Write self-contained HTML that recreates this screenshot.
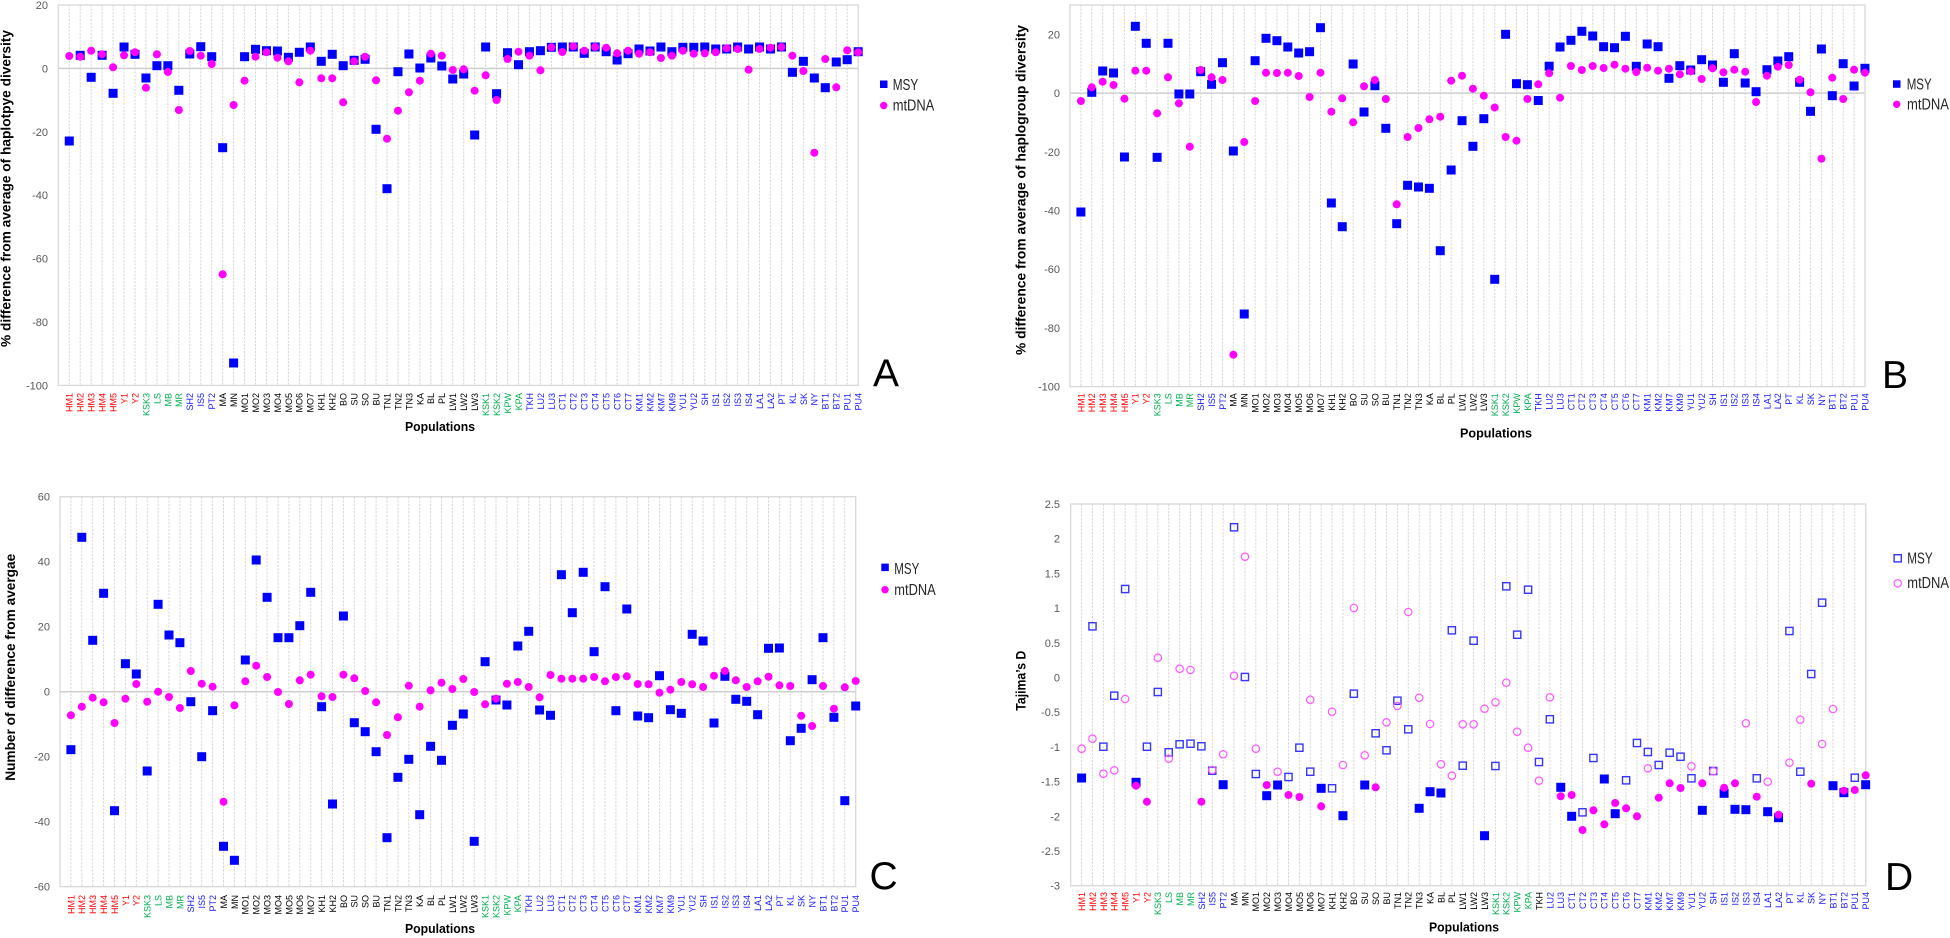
<!DOCTYPE html>
<html><head><meta charset="utf-8"><style>
html,body{margin:0;padding:0;background:#fff;}
svg{display:block;font-family:"Liberation Sans",Arial,sans-serif;}
</style></head><body>
<svg width="1950" height="938" viewBox="0 0 1950 938" xmlns="http://www.w3.org/2000/svg">
<defs>
<rect id="s" x="-4.5" y="-4.5" width="9" height="9" fill="#0000ff"/>
<circle id="c" r="4" fill="#ff00ff"/>
<rect id="hs" x="-3.6" y="-3.6" width="7.2" height="7.2" fill="none" stroke="#3636ff" stroke-width="1.4"/>
<circle id="hc" r="3.7" fill="none" stroke="#ff55ff" stroke-width="1.2"/>
<path id="gl" fill="none" stroke="#d6d6d6" stroke-width="1" stroke-dasharray="2.2 1.3" d="M10.92 0v381M21.84 0v381M32.76 0v381M43.68 0v381M54.6 0v381M65.52 0v381M76.44 0v381M87.36 0v381M98.28 0v381M109.2 0v381M120.12 0v381M131.04 0v381M141.96 0v381M152.88 0v381M163.8 0v381M174.72 0v381M185.64 0v381M196.56 0v381M207.48 0v381M218.4 0v381M229.32 0v381M240.24 0v381M251.16 0v381M262.08 0v381M273 0v381M283.92 0v381M294.84 0v381M305.76 0v381M316.68 0v381M327.6 0v381M338.52 0v381M349.44 0v381M360.36 0v381M371.28 0v381M382.2 0v381M393.12 0v381M404.04 0v381M414.96 0v381M425.88 0v381M436.8 0v381M447.72 0v381M458.64 0v381M469.56 0v381M480.48 0v381M491.4 0v381M502.32 0v381M513.24 0v381M524.16 0v381M535.08 0v381M546 0v381M556.92 0v381M567.84 0v381M578.76 0v381M589.68 0v381M600.6 0v381M611.52 0v381M622.44 0v381M633.36 0v381M644.28 0v381M655.2 0v381M666.12 0v381M677.04 0v381M687.96 0v381M698.88 0v381M709.8 0v381M720.72 0v381M731.64 0v381M742.56 0v381M753.48 0v381M764.4 0v381M775.32 0v381M786.24 0v381"/>
</defs>
<rect width="1950" height="938" fill="#fff"/>

<!-- ================= PANEL A ================= -->
<use href="#gl" transform="translate(58.3 5) scale(1.00339 0.99842)"/>
<line x1="58.3" y1="68.4" x2="858.2" y2="68.4" stroke="#cfcfcf" stroke-width="1.5"/>
<rect x="58.3" y="5" width="799.9" height="380.4" fill="none" stroke="#d9d9d9" stroke-width="1.3"/>
<g font-size="11" fill="#595959" text-anchor="end">
<text x="48" y="9">20</text><text x="48" y="72.4">0</text><text x="48" y="135.8">-20</text><text x="48" y="199.2">-40</text><text x="48" y="262.6">-60</text><text x="48" y="326">-80</text><text x="48" y="389.4">-100</text>
</g>
<text transform="translate(10.5 188.5) rotate(-90)" text-anchor="middle" font-weight="bold" font-size="14" textLength="317" lengthAdjust="spacingAndGlyphs">% difference from average of haplotpye diversity</text>
<text x="405" y="431" font-weight="bold" font-size="12.5" textLength="70" lengthAdjust="spacingAndGlyphs">Populations</text>
<g transform="translate(61.7 393) scale(1.00339 1) rotate(-90)" font-size="9" text-anchor="end">
<g fill="#ff0000"><text y="10.92">HM1</text><text y="21.84">HM2</text><text y="32.76">HM3</text><text y="43.68">HM4</text><text y="54.6">HM5</text><text y="65.52">Y1</text><text y="76.44">Y2</text></g>
<g fill="#00b050"><text y="87.36">KSK3</text><text y="98.28">LS</text><text y="109.2">MB</text><text y="120.12">MR</text></g>
<g fill="#1a1aff"><text y="131.04">SH2</text><text y="141.96">IS5</text><text y="152.88">PT2</text></g>
<g fill="#000"><text y="163.8">MA</text><text y="174.72">MN</text><text y="185.64">MO1</text><text y="196.56">MO2</text><text y="207.48">MO3</text><text y="218.4">MO4</text><text y="229.32">MO5</text><text y="240.24">MO6</text><text y="251.16">MO7</text><text y="262.08">KH1</text><text y="273">KH2</text><text y="283.92">BO</text><text y="294.84">SU</text><text y="305.76">SO</text><text y="316.68">BU</text><text y="327.6">TN1</text><text y="338.52">TN2</text><text y="349.44">TN3</text><text y="360.36">KA</text><text y="371.28">BL</text><text y="382.2">PL</text><text y="393.12">LW1</text><text y="404.04">LW2</text><text y="414.96">LW3</text></g>
<g fill="#00b050"><text y="425.88">KSK1</text><text y="436.8">KSK2</text><text y="447.72">KPW</text><text y="458.64">KPA</text></g>
<g fill="#1a1aff"><text y="469.56">TKH</text><text y="480.48">LU2</text><text y="491.4">LU3</text><text y="502.32">CT1</text><text y="513.24">CT2</text><text y="524.16">CT3</text><text y="535.08">CT4</text><text y="546">CT5</text><text y="556.92">CT6</text><text y="567.84">CT7</text><text y="578.76">KM1</text><text y="589.68">KM2</text><text y="600.6">KM7</text><text y="611.52">KM9</text><text y="622.44">YU1</text><text y="633.36">YU2</text><text y="644.28">SH</text><text y="655.2">IS1</text><text y="666.12">IS2</text><text y="677.04">IS3</text><text y="687.96">IS4</text><text y="698.88">LA1</text><text y="709.8">LA2</text><text y="720.72">PT</text><text y="731.64">KL</text><text y="742.56">SK</text><text y="753.48">NY</text><text y="764.4">BT1</text><text y="775.32">BT2</text><text y="786.24">PU1</text><text y="797.16">PU4</text></g>
</g>
<g transform="translate(58.3 0) scale(1.00339 1)">
<use href="#s" x="10.92" y="141"/><use href="#s" x="21.84" y="55.3"/><use href="#s" x="32.76" y="77.3"/><use href="#s" x="43.68" y="55.3"/><use href="#s" x="54.6" y="93.3"/><use href="#s" x="65.52" y="47"/><use href="#s" x="76.44" y="54.3"/><use href="#s" x="87.36" y="78"/><use href="#s" x="98.28" y="65.7"/><use href="#s" x="109.2" y="65.7"/><use href="#s" x="120.12" y="90.3"/><use href="#s" x="131.04" y="54"/><use href="#s" x="141.96" y="46.7"/><use href="#s" x="152.88" y="56.7"/><use href="#s" x="163.8" y="147.7"/><use href="#s" x="174.72" y="363"/><use href="#s" x="185.64" y="56.7"/><use href="#s" x="196.56" y="49.3"/><use href="#s" x="207.48" y="50.7"/><use href="#s" x="218.4" y="51"/><use href="#s" x="229.32" y="57.3"/><use href="#s" x="240.24" y="52.3"/><use href="#s" x="251.16" y="47"/><use href="#s" x="262.08" y="61.3"/><use href="#s" x="273" y="54.3"/><use href="#s" x="283.92" y="65.7"/><use href="#s" x="294.84" y="60.3"/><use href="#s" x="305.76" y="59.3"/><use href="#s" x="316.68" y="129.3"/><use href="#s" x="327.6" y="188.7"/><use href="#s" x="338.52" y="71.7"/><use href="#s" x="349.44" y="54"/><use href="#s" x="360.36" y="68"/><use href="#s" x="371.28" y="58"/><use href="#s" x="382.2" y="66"/><use href="#s" x="393.12" y="79"/><use href="#s" x="404.04" y="74"/><use href="#s" x="414.96" y="135"/><use href="#s" x="425.88" y="47"/><use href="#s" x="436.8" y="93.7"/><use href="#s" x="447.72" y="52.7"/><use href="#s" x="458.64" y="64.7"/><use href="#s" x="469.56" y="51.7"/><use href="#s" x="480.48" y="50.7"/><use href="#s" x="491.4" y="47.3"/><use href="#s" x="502.32" y="47"/><use href="#s" x="513.24" y="47"/><use href="#s" x="524.16" y="53.3"/><use href="#s" x="535.08" y="47"/><use href="#s" x="546" y="51.7"/><use href="#s" x="556.92" y="60"/><use href="#s" x="567.84" y="53.7"/><use href="#s" x="578.76" y="49"/><use href="#s" x="589.68" y="51"/><use href="#s" x="600.6" y="47"/><use href="#s" x="611.52" y="51.7"/><use href="#s" x="622.44" y="47.3"/><use href="#s" x="633.36" y="47.3"/><use href="#s" x="644.28" y="47"/><use href="#s" x="655.2" y="49"/><use href="#s" x="666.12" y="49"/><use href="#s" x="677.04" y="47"/><use href="#s" x="687.96" y="49"/><use href="#s" x="698.88" y="47"/><use href="#s" x="709.8" y="49"/><use href="#s" x="720.72" y="47"/><use href="#s" x="731.64" y="72.3"/><use href="#s" x="742.56" y="61.3"/><use href="#s" x="753.48" y="78"/><use href="#s" x="764.4" y="87.7"/><use href="#s" x="775.32" y="62"/><use href="#s" x="786.24" y="59.7"/><use href="#s" x="797.16" y="51.7"/>
<use href="#c" x="10.92" y="56"/><use href="#c" x="21.84" y="56.7"/><use href="#c" x="32.76" y="50.7"/><use href="#c" x="43.68" y="54.3"/><use href="#c" x="54.6" y="67.3"/><use href="#c" x="65.52" y="55.3"/><use href="#c" x="76.44" y="52.3"/><use href="#c" x="87.36" y="87.7"/><use href="#c" x="98.28" y="54.3"/><use href="#c" x="109.2" y="72"/><use href="#c" x="120.12" y="110"/><use href="#c" x="131.04" y="51"/><use href="#c" x="141.96" y="55.7"/><use href="#c" x="152.88" y="64"/><use href="#c" x="163.8" y="274.3"/><use href="#c" x="174.72" y="105"/><use href="#c" x="185.64" y="80.7"/><use href="#c" x="196.56" y="56.7"/><use href="#c" x="207.48" y="52.3"/><use href="#c" x="218.4" y="57.7"/><use href="#c" x="229.32" y="61.3"/><use href="#c" x="240.24" y="82.3"/><use href="#c" x="251.16" y="50.7"/><use href="#c" x="262.08" y="78.3"/><use href="#c" x="273" y="78.3"/><use href="#c" x="283.92" y="102.3"/><use href="#c" x="294.84" y="61.3"/><use href="#c" x="305.76" y="56.7"/><use href="#c" x="316.68" y="80.3"/><use href="#c" x="327.6" y="138.7"/><use href="#c" x="338.52" y="110.7"/><use href="#c" x="349.44" y="92.3"/><use href="#c" x="360.36" y="80.7"/><use href="#c" x="371.28" y="53.7"/><use href="#c" x="382.2" y="55.7"/><use href="#c" x="393.12" y="70"/><use href="#c" x="404.04" y="69.3"/><use href="#c" x="414.96" y="90.7"/><use href="#c" x="425.88" y="75.3"/><use href="#c" x="436.8" y="100"/><use href="#c" x="447.72" y="59"/><use href="#c" x="458.64" y="51.7"/><use href="#c" x="469.56" y="55.7"/><use href="#c" x="480.48" y="70.3"/><use href="#c" x="491.4" y="47.3"/><use href="#c" x="502.32" y="52"/><use href="#c" x="513.24" y="46.3"/><use href="#c" x="524.16" y="50.7"/><use href="#c" x="535.08" y="47"/><use href="#c" x="546" y="47.7"/><use href="#c" x="556.92" y="53.3"/><use href="#c" x="567.84" y="50.7"/><use href="#c" x="578.76" y="53.7"/><use href="#c" x="589.68" y="52.3"/><use href="#c" x="600.6" y="58"/><use href="#c" x="611.52" y="55.7"/><use href="#c" x="622.44" y="50.7"/><use href="#c" x="633.36" y="53.7"/><use href="#c" x="644.28" y="53.3"/><use href="#c" x="655.2" y="52.3"/><use href="#c" x="666.12" y="48.3"/><use href="#c" x="677.04" y="49"/><use href="#c" x="687.96" y="69.7"/><use href="#c" x="698.88" y="49"/><use href="#c" x="709.8" y="47.7"/><use href="#c" x="720.72" y="47"/><use href="#c" x="731.64" y="55.7"/><use href="#c" x="742.56" y="71"/><use href="#c" x="753.48" y="152.7"/><use href="#c" x="764.4" y="59"/><use href="#c" x="775.32" y="87.3"/><use href="#c" x="786.24" y="50.3"/><use href="#c" x="797.16" y="52.3"/>
</g>
<rect x="880" y="80.5" width="7.5" height="7.5" fill="#0000ff"/>
<circle cx="883.7" cy="105.5" r="3.7" fill="#ff00ff"/>
<text x="892.7" y="90" font-size="15.5" fill="#262626" textLength="25.6" lengthAdjust="spacingAndGlyphs">MSY</text>
<text x="892.7" y="110.5" font-size="15.5" fill="#262626" textLength="41.6" lengthAdjust="spacingAndGlyphs">mtDNA</text>
<text x="873" y="386.7" font-size="39" fill="#000">A</text>

<!-- ================= PANEL B ================= -->
<use href="#gl" transform="translate(1070 5) scale(0.99725 1.0018)"/>
<line x1="1070" y1="93.1" x2="1865" y2="93.1" stroke="#cfcfcf" stroke-width="1.5"/>
<rect x="1070" y="5" width="795" height="381.7" fill="none" stroke="#d9d9d9" stroke-width="1.3"/>
<g font-size="11" fill="#595959" text-anchor="end">
<text x="1060" y="38.4">20</text><text x="1060" y="97.1">0</text><text x="1060" y="155.8">-20</text><text x="1060" y="214.5">-40</text><text x="1060" y="273.2">-60</text><text x="1060" y="331.9">-80</text><text x="1060" y="390.6">-100</text>
</g>
<text transform="translate(1025.3 190) rotate(-90)" text-anchor="middle" font-weight="bold" font-size="14" textLength="330" lengthAdjust="spacingAndGlyphs">% difference from average of haplogroup diversity</text>
<text x="1460" y="437.5" font-weight="bold" font-size="12.5" textLength="72" lengthAdjust="spacingAndGlyphs">Populations</text>
<g transform="translate(1073.4 393.3) scale(0.99725 1) rotate(-90)" font-size="9" text-anchor="end">
<g fill="#ff0000"><text y="10.92">HM1</text><text y="21.84">HM2</text><text y="32.76">HM3</text><text y="43.68">HM4</text><text y="54.6">HM5</text><text y="65.52">Y1</text><text y="76.44">Y2</text></g>
<g fill="#00b050"><text y="87.36">KSK3</text><text y="98.28">LS</text><text y="109.2">MB</text><text y="120.12">MR</text></g>
<g fill="#1a1aff"><text y="131.04">SH2</text><text y="141.96">IS5</text><text y="152.88">PT2</text></g>
<g fill="#000"><text y="163.8">MA</text><text y="174.72">MN</text><text y="185.64">MO1</text><text y="196.56">MO2</text><text y="207.48">MO3</text><text y="218.4">MO4</text><text y="229.32">MO5</text><text y="240.24">MO6</text><text y="251.16">MO7</text><text y="262.08">KH1</text><text y="273">KH2</text><text y="283.92">BO</text><text y="294.84">SU</text><text y="305.76">SO</text><text y="316.68">BU</text><text y="327.6">TN1</text><text y="338.52">TN2</text><text y="349.44">TN3</text><text y="360.36">KA</text><text y="371.28">BL</text><text y="382.2">PL</text><text y="393.12">LW1</text><text y="404.04">LW2</text><text y="414.96">LW3</text></g>
<g fill="#00b050"><text y="425.88">KSK1</text><text y="436.8">KSK2</text><text y="447.72">KPW</text><text y="458.64">KPA</text></g>
<g fill="#1a1aff"><text y="469.56">TKH</text><text y="480.48">LU2</text><text y="491.4">LU3</text><text y="502.32">CT1</text><text y="513.24">CT2</text><text y="524.16">CT3</text><text y="535.08">CT4</text><text y="546">CT5</text><text y="556.92">CT6</text><text y="567.84">CT7</text><text y="578.76">KM1</text><text y="589.68">KM2</text><text y="600.6">KM7</text><text y="611.52">KM9</text><text y="622.44">YU1</text><text y="633.36">YU2</text><text y="644.28">SH</text><text y="655.2">IS1</text><text y="666.12">IS2</text><text y="677.04">IS3</text><text y="687.96">IS4</text><text y="698.88">LA1</text><text y="709.8">LA2</text><text y="720.72">PT</text><text y="731.64">KL</text><text y="742.56">SK</text><text y="753.48">NY</text><text y="764.4">BT1</text><text y="775.32">BT2</text><text y="786.24">PU1</text><text y="797.16">PU4</text></g>
</g>
<g transform="translate(1070 0) scale(0.99725 1)">
<use href="#s" x="10.92" y="212"/><use href="#s" x="21.84" y="92.3"/><use href="#s" x="32.76" y="71"/><use href="#s" x="43.68" y="73"/><use href="#s" x="54.6" y="157"/><use href="#s" x="65.52" y="26.3"/><use href="#s" x="76.44" y="43.3"/><use href="#s" x="87.36" y="157.3"/><use href="#s" x="98.28" y="43.3"/><use href="#s" x="109.2" y="94"/><use href="#s" x="120.12" y="94"/><use href="#s" x="131.04" y="71.7"/><use href="#s" x="141.96" y="84.3"/><use href="#s" x="152.88" y="62.7"/><use href="#s" x="163.8" y="151"/><use href="#s" x="174.72" y="314"/><use href="#s" x="185.64" y="60.7"/><use href="#s" x="196.56" y="38.3"/><use href="#s" x="207.48" y="40.7"/><use href="#s" x="218.4" y="47"/><use href="#s" x="229.32" y="53"/><use href="#s" x="240.24" y="51.7"/><use href="#s" x="251.16" y="27.7"/><use href="#s" x="262.08" y="203"/><use href="#s" x="273" y="226.7"/><use href="#s" x="283.92" y="64"/><use href="#s" x="294.84" y="112"/><use href="#s" x="305.76" y="85.7"/><use href="#s" x="316.68" y="128.3"/><use href="#s" x="327.6" y="223.7"/><use href="#s" x="338.52" y="185.3"/><use href="#s" x="349.44" y="187"/><use href="#s" x="360.36" y="188.3"/><use href="#s" x="371.28" y="250.7"/><use href="#s" x="382.2" y="170"/><use href="#s" x="393.12" y="120.7"/><use href="#s" x="404.04" y="146.3"/><use href="#s" x="414.96" y="118.7"/><use href="#s" x="425.88" y="279.3"/><use href="#s" x="436.8" y="34.3"/><use href="#s" x="447.72" y="83.7"/><use href="#s" x="458.64" y="84.7"/><use href="#s" x="469.56" y="100.5"/><use href="#s" x="480.48" y="66.2"/><use href="#s" x="491.4" y="47"/><use href="#s" x="502.32" y="40.3"/><use href="#s" x="513.24" y="31.3"/><use href="#s" x="524.16" y="36"/><use href="#s" x="535.08" y="46.7"/><use href="#s" x="546" y="47.7"/><use href="#s" x="556.92" y="36.3"/><use href="#s" x="567.84" y="66.3"/><use href="#s" x="578.76" y="44"/><use href="#s" x="589.68" y="46.7"/><use href="#s" x="600.6" y="78.3"/><use href="#s" x="611.52" y="65.7"/><use href="#s" x="622.44" y="70"/><use href="#s" x="633.36" y="59.7"/><use href="#s" x="644.28" y="65"/><use href="#s" x="655.2" y="82.3"/><use href="#s" x="666.12" y="53.7"/><use href="#s" x="677.04" y="83"/><use href="#s" x="687.96" y="91.7"/><use href="#s" x="698.88" y="69.7"/><use href="#s" x="709.8" y="61"/><use href="#s" x="720.72" y="56.7"/><use href="#s" x="731.64" y="82.3"/><use href="#s" x="742.56" y="111.3"/><use href="#s" x="753.48" y="49"/><use href="#s" x="764.4" y="95.7"/><use href="#s" x="775.32" y="63.7"/><use href="#s" x="786.24" y="86"/><use href="#s" x="797.16" y="68.3"/>
<use href="#c" x="10.92" y="101"/><use href="#c" x="21.84" y="87.3"/><use href="#c" x="32.76" y="81.7"/><use href="#c" x="43.68" y="85"/><use href="#c" x="54.6" y="98.7"/><use href="#c" x="65.52" y="70.7"/><use href="#c" x="76.44" y="70.7"/><use href="#c" x="87.36" y="113.3"/><use href="#c" x="98.28" y="77.3"/><use href="#c" x="109.2" y="103.3"/><use href="#c" x="120.12" y="146.7"/><use href="#c" x="131.04" y="70"/><use href="#c" x="141.96" y="77.3"/><use href="#c" x="152.88" y="80"/><use href="#c" x="163.8" y="354.7"/><use href="#c" x="174.72" y="142"/><use href="#c" x="185.64" y="101"/><use href="#c" x="196.56" y="72.7"/><use href="#c" x="207.48" y="73"/><use href="#c" x="218.4" y="72.7"/><use href="#c" x="229.32" y="76"/><use href="#c" x="240.24" y="97"/><use href="#c" x="251.16" y="72.7"/><use href="#c" x="262.08" y="111.7"/><use href="#c" x="273" y="98.3"/><use href="#c" x="283.92" y="122.3"/><use href="#c" x="294.84" y="86.3"/><use href="#c" x="305.76" y="80"/><use href="#c" x="316.68" y="99"/><use href="#c" x="327.6" y="204.3"/><use href="#c" x="338.52" y="137"/><use href="#c" x="349.44" y="128"/><use href="#c" x="360.36" y="119.3"/><use href="#c" x="371.28" y="116.7"/><use href="#c" x="382.2" y="80.7"/><use href="#c" x="393.12" y="75.7"/><use href="#c" x="404.04" y="88.7"/><use href="#c" x="414.96" y="95.7"/><use href="#c" x="425.88" y="107.5"/><use href="#c" x="436.8" y="137"/><use href="#c" x="447.72" y="140.7"/><use href="#c" x="458.64" y="99"/><use href="#c" x="469.56" y="84.3"/><use href="#c" x="480.48" y="73.3"/><use href="#c" x="491.4" y="97.7"/><use href="#c" x="502.32" y="66"/><use href="#c" x="513.24" y="70"/><use href="#c" x="524.16" y="66"/><use href="#c" x="535.08" y="68"/><use href="#c" x="546" y="64.7"/><use href="#c" x="556.92" y="68.7"/><use href="#c" x="567.84" y="72"/><use href="#c" x="578.76" y="67.7"/><use href="#c" x="589.68" y="70.7"/><use href="#c" x="600.6" y="68.7"/><use href="#c" x="611.52" y="74.3"/><use href="#c" x="622.44" y="71.3"/><use href="#c" x="633.36" y="79"/><use href="#c" x="644.28" y="68.3"/><use href="#c" x="655.2" y="72.3"/><use href="#c" x="666.12" y="69.7"/><use href="#c" x="677.04" y="71.7"/><use href="#c" x="687.96" y="102"/><use href="#c" x="698.88" y="75.7"/><use href="#c" x="709.8" y="66.7"/><use href="#c" x="720.72" y="65"/><use href="#c" x="731.64" y="79.7"/><use href="#c" x="742.56" y="92.3"/><use href="#c" x="753.48" y="158.7"/><use href="#c" x="764.4" y="77.7"/><use href="#c" x="775.32" y="99"/><use href="#c" x="786.24" y="69.7"/><use href="#c" x="797.16" y="72.7"/>
</g>
<rect x="1893" y="80.3" width="7.5" height="7.5" fill="#0000ff"/>
<circle cx="1896.7" cy="104.3" r="3.7" fill="#ff00ff"/>
<text x="1906.7" y="89.3" font-size="15.5" fill="#262626" textLength="25" lengthAdjust="spacingAndGlyphs">MSY</text>
<text x="1907" y="109.3" font-size="15.5" fill="#262626" textLength="42" lengthAdjust="spacingAndGlyphs">mtDNA</text>
<text x="1882" y="388" font-size="39" fill="#000">B</text>

<!-- ================= PANEL C ================= -->
<use href="#gl" transform="translate(60 496.7) scale(0.99817 1.0236)"/>
<line x1="60" y1="691.7" x2="855.7" y2="691.7" stroke="#cfcfcf" stroke-width="1.5"/>
<rect x="60" y="496.7" width="795.7" height="390" fill="none" stroke="#d9d9d9" stroke-width="1.3"/>
<g font-size="11" fill="#595959" text-anchor="end">
<text x="50" y="500.7">60</text><text x="50" y="565.7">40</text><text x="50" y="630.7">20</text><text x="50" y="695.7">0</text><text x="50" y="760.7">-20</text><text x="50" y="825.7">-40</text><text x="50" y="890.7">-60</text>
</g>
<text transform="translate(15 667.3) rotate(-90)" text-anchor="middle" font-weight="bold" font-size="13.5" textLength="227" lengthAdjust="spacingAndGlyphs">Number of difference from avergae</text>
<text x="405" y="933" font-weight="bold" font-size="12.5" textLength="70" lengthAdjust="spacingAndGlyphs">Populations</text>
<g transform="translate(63.4 895) scale(0.99817 1) rotate(-90)" font-size="9" text-anchor="end">
<g fill="#ff0000"><text y="10.92">HM1</text><text y="21.84">HM2</text><text y="32.76">HM3</text><text y="43.68">HM4</text><text y="54.6">HM5</text><text y="65.52">Y1</text><text y="76.44">Y2</text></g>
<g fill="#00b050"><text y="87.36">KSK3</text><text y="98.28">LS</text><text y="109.2">MB</text><text y="120.12">MR</text></g>
<g fill="#1a1aff"><text y="131.04">SH2</text><text y="141.96">IS5</text><text y="152.88">PT2</text></g>
<g fill="#000"><text y="163.8">MA</text><text y="174.72">MN</text><text y="185.64">MO1</text><text y="196.56">MO2</text><text y="207.48">MO3</text><text y="218.4">MO4</text><text y="229.32">MO5</text><text y="240.24">MO6</text><text y="251.16">MO7</text><text y="262.08">KH1</text><text y="273">KH2</text><text y="283.92">BO</text><text y="294.84">SU</text><text y="305.76">SO</text><text y="316.68">BU</text><text y="327.6">TN1</text><text y="338.52">TN2</text><text y="349.44">TN3</text><text y="360.36">KA</text><text y="371.28">BL</text><text y="382.2">PL</text><text y="393.12">LW1</text><text y="404.04">LW2</text><text y="414.96">LW3</text></g>
<g fill="#00b050"><text y="425.88">KSK1</text><text y="436.8">KSK2</text><text y="447.72">KPW</text><text y="458.64">KPA</text></g>
<g fill="#1a1aff"><text y="469.56">TKH</text><text y="480.48">LU2</text><text y="491.4">LU3</text><text y="502.32">CT1</text><text y="513.24">CT2</text><text y="524.16">CT3</text><text y="535.08">CT4</text><text y="546">CT5</text><text y="556.92">CT6</text><text y="567.84">CT7</text><text y="578.76">KM1</text><text y="589.68">KM2</text><text y="600.6">KM7</text><text y="611.52">KM9</text><text y="622.44">YU1</text><text y="633.36">YU2</text><text y="644.28">SH</text><text y="655.2">IS1</text><text y="666.12">IS2</text><text y="677.04">IS3</text><text y="687.96">IS4</text><text y="698.88">LA1</text><text y="709.8">LA2</text><text y="720.72">PT</text><text y="731.64">KL</text><text y="742.56">SK</text><text y="753.48">NY</text><text y="764.4">BT1</text><text y="775.32">BT2</text><text y="786.24">PU1</text><text y="797.16">PU4</text></g>
</g>
<g transform="translate(60 0) scale(0.99817 1)">
<use href="#s" x="10.92" y="749.7"/><use href="#s" x="21.84" y="537.3"/><use href="#s" x="32.76" y="640.3"/><use href="#s" x="43.68" y="593.3"/><use href="#s" x="54.6" y="810.7"/><use href="#s" x="65.52" y="663.7"/><use href="#s" x="76.44" y="674"/><use href="#s" x="87.36" y="771"/><use href="#s" x="98.28" y="604.3"/><use href="#s" x="109.2" y="635"/><use href="#s" x="120.12" y="642.7"/><use href="#s" x="131.04" y="701.7"/><use href="#s" x="141.96" y="756.7"/><use href="#s" x="152.88" y="710.7"/><use href="#s" x="163.8" y="846.3"/><use href="#s" x="174.72" y="860.3"/><use href="#s" x="185.64" y="660"/><use href="#s" x="196.56" y="560"/><use href="#s" x="207.48" y="597.3"/><use href="#s" x="218.4" y="637.7"/><use href="#s" x="229.32" y="637.7"/><use href="#s" x="240.24" y="625.7"/><use href="#s" x="251.16" y="592.3"/><use href="#s" x="262.08" y="706.7"/><use href="#s" x="273" y="804"/><use href="#s" x="283.92" y="616"/><use href="#s" x="294.84" y="722.7"/><use href="#s" x="305.76" y="731.7"/><use href="#s" x="316.68" y="751.7"/><use href="#s" x="327.6" y="837.7"/><use href="#s" x="338.52" y="777.3"/><use href="#s" x="349.44" y="759.3"/><use href="#s" x="360.36" y="814.7"/><use href="#s" x="371.28" y="746.3"/><use href="#s" x="382.2" y="760.3"/><use href="#s" x="393.12" y="725.3"/><use href="#s" x="404.04" y="714"/><use href="#s" x="414.96" y="841.3"/><use href="#s" x="425.88" y="661.7"/><use href="#s" x="436.8" y="700"/><use href="#s" x="447.72" y="705"/><use href="#s" x="458.64" y="646"/><use href="#s" x="469.56" y="631.3"/><use href="#s" x="480.48" y="710"/><use href="#s" x="491.4" y="715.3"/><use href="#s" x="502.32" y="574.7"/><use href="#s" x="513.24" y="612.7"/><use href="#s" x="524.16" y="572.3"/><use href="#s" x="535.08" y="651.7"/><use href="#s" x="546" y="586.7"/><use href="#s" x="556.92" y="710.7"/><use href="#s" x="567.84" y="609"/><use href="#s" x="578.76" y="716"/><use href="#s" x="589.68" y="717.7"/><use href="#s" x="600.6" y="675.7"/><use href="#s" x="611.52" y="709.7"/><use href="#s" x="622.44" y="713.3"/><use href="#s" x="633.36" y="634.3"/><use href="#s" x="644.28" y="641"/><use href="#s" x="655.2" y="723"/><use href="#s" x="666.12" y="676.3"/><use href="#s" x="677.04" y="699.3"/><use href="#s" x="687.96" y="701.3"/><use href="#s" x="698.88" y="714.7"/><use href="#s" x="709.8" y="648.3"/><use href="#s" x="720.72" y="648"/><use href="#s" x="731.64" y="740.7"/><use href="#s" x="742.56" y="728.3"/><use href="#s" x="753.48" y="679.7"/><use href="#s" x="764.4" y="637.7"/><use href="#s" x="775.32" y="717.3"/><use href="#s" x="786.24" y="800.7"/><use href="#s" x="797.16" y="706"/>
<use href="#c" x="10.92" y="715.3"/><use href="#c" x="21.84" y="706.7"/><use href="#c" x="32.76" y="697.7"/><use href="#c" x="43.68" y="702.3"/><use href="#c" x="54.6" y="723"/><use href="#c" x="65.52" y="698.7"/><use href="#c" x="76.44" y="684"/><use href="#c" x="87.36" y="701.7"/><use href="#c" x="98.28" y="691.7"/><use href="#c" x="109.2" y="697"/><use href="#c" x="120.12" y="708"/><use href="#c" x="131.04" y="671"/><use href="#c" x="141.96" y="683.7"/><use href="#c" x="152.88" y="686.7"/><use href="#c" x="163.8" y="801.7"/><use href="#c" x="174.72" y="705.3"/><use href="#c" x="185.64" y="681.3"/><use href="#c" x="196.56" y="665.7"/><use href="#c" x="207.48" y="677"/><use href="#c" x="218.4" y="692"/><use href="#c" x="229.32" y="704"/><use href="#c" x="240.24" y="680.3"/><use href="#c" x="251.16" y="674.7"/><use href="#c" x="262.08" y="696.3"/><use href="#c" x="273" y="697"/><use href="#c" x="283.92" y="674.7"/><use href="#c" x="294.84" y="678.3"/><use href="#c" x="305.76" y="691"/><use href="#c" x="316.68" y="702.3"/><use href="#c" x="327.6" y="735"/><use href="#c" x="338.52" y="717.3"/><use href="#c" x="349.44" y="685.7"/><use href="#c" x="360.36" y="706.7"/><use href="#c" x="371.28" y="690.3"/><use href="#c" x="382.2" y="682.7"/><use href="#c" x="393.12" y="689"/><use href="#c" x="404.04" y="679"/><use href="#c" x="414.96" y="692"/><use href="#c" x="425.88" y="704.3"/><use href="#c" x="436.8" y="698.7"/><use href="#c" x="447.72" y="683.7"/><use href="#c" x="458.64" y="682"/><use href="#c" x="469.56" y="687"/><use href="#c" x="480.48" y="697.3"/><use href="#c" x="491.4" y="675"/><use href="#c" x="502.32" y="678.7"/><use href="#c" x="513.24" y="678.7"/><use href="#c" x="524.16" y="678.7"/><use href="#c" x="535.08" y="677"/><use href="#c" x="546" y="681.3"/><use href="#c" x="556.92" y="677"/><use href="#c" x="567.84" y="676.3"/><use href="#c" x="578.76" y="684"/><use href="#c" x="589.68" y="684.3"/><use href="#c" x="600.6" y="692.7"/><use href="#c" x="611.52" y="689.7"/><use href="#c" x="622.44" y="682"/><use href="#c" x="633.36" y="684.3"/><use href="#c" x="644.28" y="687"/><use href="#c" x="655.2" y="675.7"/><use href="#c" x="666.12" y="671"/><use href="#c" x="677.04" y="680.3"/><use href="#c" x="687.96" y="687"/><use href="#c" x="698.88" y="681.3"/><use href="#c" x="709.8" y="676.7"/><use href="#c" x="720.72" y="685.3"/><use href="#c" x="731.64" y="686"/><use href="#c" x="742.56" y="715.7"/><use href="#c" x="753.48" y="726"/><use href="#c" x="764.4" y="686"/><use href="#c" x="775.32" y="708.7"/><use href="#c" x="786.24" y="687.3"/><use href="#c" x="797.16" y="681"/>
</g>
<rect x="881.3" y="563.6" width="7.5" height="7.5" fill="#0000ff"/>
<circle cx="885" cy="589.7" r="3.7" fill="#ff00ff"/>
<text x="894.3" y="574" font-size="15.5" fill="#262626" textLength="25" lengthAdjust="spacingAndGlyphs">MSY</text>
<text x="894.3" y="595" font-size="15.5" fill="#262626" textLength="41.4" lengthAdjust="spacingAndGlyphs">mtDNA</text>
<text x="869.5" y="889" font-size="39" fill="#000">C</text>

<!-- ================= PANEL D ================= -->
<use href="#gl" transform="translate(1070.7 504) scale(0.99725 1.0018)"/>
<rect x="1070.7" y="504" width="795" height="381.7" fill="none" stroke="#d9d9d9" stroke-width="1.3"/>
<g font-size="11" fill="#595959" text-anchor="end">
<text x="1060" y="508">2.5</text><text x="1060" y="542.7">2</text><text x="1060" y="577.4">1.5</text><text x="1060" y="612.1">1</text><text x="1060" y="646.8">0.5</text><text x="1060" y="681.5">0</text><text x="1060" y="716.2">-0.5</text><text x="1060" y="750.9">-1</text><text x="1060" y="785.6">-1.5</text><text x="1060" y="820.3">-2</text><text x="1060" y="855">-2.5</text><text x="1060" y="889.7">-3</text>
</g>
<text transform="translate(1025.5 680.7) rotate(-90)" text-anchor="middle" font-weight="bold" font-size="13.5" textLength="60" lengthAdjust="spacingAndGlyphs">Tajima’s D</text>
<text x="1429" y="931.5" font-weight="bold" font-size="12.5" textLength="70" lengthAdjust="spacingAndGlyphs">Populations</text>
<g transform="translate(1074.1 892) scale(0.99725 1) rotate(-90)" font-size="9" text-anchor="end">
<g fill="#ff0000"><text y="10.92">HM1</text><text y="21.84">HM2</text><text y="32.76">HM3</text><text y="43.68">HM4</text><text y="54.6">HM5</text><text y="65.52">Y1</text><text y="76.44">Y2</text></g>
<g fill="#00b050"><text y="87.36">KSK3</text><text y="98.28">LS</text><text y="109.2">MB</text><text y="120.12">MR</text></g>
<g fill="#1a1aff"><text y="131.04">SH2</text><text y="141.96">IS5</text><text y="152.88">PT2</text></g>
<g fill="#000"><text y="163.8">MA</text><text y="174.72">MN</text><text y="185.64">MO1</text><text y="196.56">MO2</text><text y="207.48">MO3</text><text y="218.4">MO4</text><text y="229.32">MO5</text><text y="240.24">MO6</text><text y="251.16">MO7</text><text y="262.08">KH1</text><text y="273">KH2</text><text y="283.92">BO</text><text y="294.84">SU</text><text y="305.76">SO</text><text y="316.68">BU</text><text y="327.6">TN1</text><text y="338.52">TN2</text><text y="349.44">TN3</text><text y="360.36">KA</text><text y="371.28">BL</text><text y="382.2">PL</text><text y="393.12">LW1</text><text y="404.04">LW2</text><text y="414.96">LW3</text></g>
<g fill="#00b050"><text y="425.88">KSK1</text><text y="436.8">KSK2</text><text y="447.72">KPW</text><text y="458.64">KPA</text></g>
<g fill="#000"><text y="469.56">TKH</text></g>
<g fill="#1a1aff"><text y="480.48">LU2</text><text y="491.4">LU3</text><text y="502.32">CT1</text><text y="513.24">CT2</text><text y="524.16">CT3</text><text y="535.08">CT4</text><text y="546">CT5</text><text y="556.92">CT6</text><text y="567.84">CT7</text><text y="578.76">KM1</text><text y="589.68">KM2</text><text y="600.6">KM7</text><text y="611.52">KM9</text><text y="622.44">YU1</text><text y="633.36">YU2</text><text y="644.28">SH</text><text y="655.2">IS1</text><text y="666.12">IS2</text><text y="677.04">IS3</text><text y="687.96">IS4</text><text y="698.88">LA1</text><text y="709.8">LA2</text><text y="720.72">PT</text><text y="731.64">KL</text><text y="742.56">SK</text><text y="753.48">NY</text><text y="764.4">BT1</text><text y="775.32">BT2</text><text y="786.24">PU1</text><text y="797.16">PU4</text></g>
</g>
<g transform="translate(1070.7 0) scale(0.99725 1)">
<use href="#hs" x="21.84" y="626.3"/><use href="#hs" x="32.76" y="746.7"/><use href="#hs" x="43.68" y="695.7"/><use href="#hs" x="54.6" y="589"/><use href="#hs" x="76.44" y="746.7"/><use href="#hs" x="87.36" y="692"/><use href="#hs" x="98.28" y="752.3"/><use href="#hs" x="109.2" y="744.3"/><use href="#hs" x="120.12" y="743.7"/><use href="#hs" x="131.04" y="746.3"/><use href="#hs" x="141.96" y="770.7"/><use href="#hs" x="163.8" y="527.3"/><use href="#hs" x="174.72" y="677"/><use href="#hs" x="185.64" y="774"/><use href="#hs" x="218.4" y="777"/><use href="#hs" x="229.32" y="747.7"/><use href="#hs" x="240.24" y="771.7"/><use href="#hs" x="262.08" y="788.3"/><use href="#hs" x="283.92" y="693.7"/><use href="#hs" x="305.76" y="733.3"/><use href="#hs" x="316.68" y="750.3"/><use href="#hs" x="327.6" y="700.7"/><use href="#hs" x="338.52" y="729.3"/><use href="#hs" x="382.2" y="630.3"/><use href="#hs" x="393.12" y="765.7"/><use href="#hs" x="404.04" y="640.7"/><use href="#hs" x="425.88" y="766"/><use href="#hs" x="436.8" y="586.3"/><use href="#hs" x="447.72" y="634.7"/><use href="#hs" x="458.64" y="589.7"/><use href="#hs" x="469.56" y="762"/><use href="#hs" x="480.48" y="719.3"/><use href="#hs" x="513.24" y="812.3"/><use href="#hs" x="524.16" y="758"/><use href="#hs" x="556.92" y="780.3"/><use href="#hs" x="567.84" y="743"/><use href="#hs" x="578.76" y="752"/><use href="#hs" x="589.68" y="765"/><use href="#hs" x="600.6" y="752.7"/><use href="#hs" x="611.52" y="756.7"/><use href="#hs" x="622.44" y="778.3"/><use href="#hs" x="644.28" y="771"/><use href="#hs" x="687.96" y="778.3"/><use href="#hs" x="720.72" y="631"/><use href="#hs" x="731.64" y="771.7"/><use href="#hs" x="742.56" y="674"/><use href="#hs" x="753.48" y="602.7"/><use href="#hs" x="786.24" y="777.7"/>
<use href="#s" x="10.92" y="778"/><use href="#s" x="65.52" y="782.3"/><use href="#s" x="152.88" y="784.7"/><use href="#s" x="196.56" y="795.7"/><use href="#s" x="207.48" y="785"/><use href="#s" x="251.16" y="788.3"/><use href="#s" x="273" y="815.7"/><use href="#s" x="294.84" y="785"/><use href="#s" x="349.44" y="808.3"/><use href="#s" x="360.36" y="791.7"/><use href="#s" x="371.28" y="793"/><use href="#s" x="414.96" y="835.7"/><use href="#s" x="491.4" y="787.3"/><use href="#s" x="502.32" y="816.3"/><use href="#s" x="535.08" y="779"/><use href="#s" x="546" y="813.7"/><use href="#s" x="633.36" y="810.3"/><use href="#s" x="655.2" y="793.3"/><use href="#s" x="666.12" y="809.3"/><use href="#s" x="677.04" y="809.7"/><use href="#s" x="698.88" y="811.7"/><use href="#s" x="709.8" y="817.7"/><use href="#s" x="764.4" y="785.7"/><use href="#s" x="775.32" y="792.7"/><use href="#s" x="797.16" y="784.7"/>
<use href="#hc" x="10.92" y="748.7"/><use href="#hc" x="21.84" y="738.7"/><use href="#hc" x="32.76" y="773.7"/><use href="#hc" x="43.68" y="770.3"/><use href="#hc" x="54.6" y="699"/><use href="#hc" x="87.36" y="657.7"/><use href="#hc" x="98.28" y="758.7"/><use href="#hc" x="109.2" y="668.7"/><use href="#hc" x="120.12" y="670"/><use href="#hc" x="141.96" y="770"/><use href="#hc" x="152.88" y="754.3"/><use href="#hc" x="163.8" y="675.7"/><use href="#hc" x="174.72" y="556.7"/><use href="#hc" x="185.64" y="748.7"/><use href="#hc" x="207.48" y="771.7"/><use href="#hc" x="240.24" y="699.7"/><use href="#hc" x="262.08" y="711.7"/><use href="#hc" x="273" y="765"/><use href="#hc" x="283.92" y="608"/><use href="#hc" x="294.84" y="755.3"/><use href="#hc" x="316.68" y="722.3"/><use href="#hc" x="327.6" y="706"/><use href="#hc" x="338.52" y="612"/><use href="#hc" x="349.44" y="697.7"/><use href="#hc" x="360.36" y="724"/><use href="#hc" x="371.28" y="764.3"/><use href="#hc" x="382.2" y="775.7"/><use href="#hc" x="393.12" y="724.3"/><use href="#hc" x="404.04" y="724.3"/><use href="#hc" x="414.96" y="708.7"/><use href="#hc" x="425.88" y="702.3"/><use href="#hc" x="436.8" y="682.7"/><use href="#hc" x="447.72" y="731.7"/><use href="#hc" x="458.64" y="747.7"/><use href="#hc" x="469.56" y="780.7"/><use href="#hc" x="480.48" y="697.3"/><use href="#hc" x="578.76" y="768.3"/><use href="#hc" x="622.44" y="766.3"/><use href="#hc" x="644.28" y="771.3"/><use href="#hc" x="677.04" y="723.3"/><use href="#hc" x="698.88" y="781.7"/><use href="#hc" x="720.72" y="762.7"/><use href="#hc" x="731.64" y="719.7"/><use href="#hc" x="753.48" y="744"/><use href="#hc" x="764.4" y="709"/>
<use href="#c" x="65.52" y="785.7"/><use href="#c" x="76.44" y="801.7"/><use href="#c" x="131.04" y="801.7"/><use href="#c" x="196.56" y="785"/><use href="#c" x="218.4" y="795"/><use href="#c" x="229.32" y="797"/><use href="#c" x="251.16" y="806.3"/><use href="#c" x="305.76" y="787.3"/><use href="#c" x="491.4" y="796.3"/><use href="#c" x="502.32" y="795"/><use href="#c" x="513.24" y="830"/><use href="#c" x="524.16" y="810.3"/><use href="#c" x="535.08" y="824.3"/><use href="#c" x="546" y="803"/><use href="#c" x="556.92" y="808.3"/><use href="#c" x="567.84" y="816.3"/><use href="#c" x="589.68" y="797.7"/><use href="#c" x="600.6" y="783.3"/><use href="#c" x="611.52" y="788"/><use href="#c" x="633.36" y="783.3"/><use href="#c" x="655.2" y="787.7"/><use href="#c" x="666.12" y="783.3"/><use href="#c" x="687.96" y="796.7"/><use href="#c" x="709.8" y="814.7"/><use href="#c" x="742.56" y="783.7"/><use href="#c" x="775.32" y="790.7"/><use href="#c" x="786.24" y="790"/><use href="#c" x="797.16" y="775.3"/>
</g>
<rect x="1894.1" y="554.7" width="7.2" height="7.2" fill="none" stroke="#3636ff" stroke-width="1.4"/>
<circle cx="1897.7" cy="583.3" r="3.7" fill="none" stroke="#ff55ff" stroke-width="1.2"/>
<text x="1907.3" y="563.3" font-size="15.5" fill="#262626" textLength="25.4" lengthAdjust="spacingAndGlyphs">MSY</text>
<text x="1907.3" y="588" font-size="15.5" fill="#262626" textLength="41.7" lengthAdjust="spacingAndGlyphs">mtDNA</text>
<text x="1885" y="890" font-size="39" fill="#000">D</text>
</svg>
</body></html>
